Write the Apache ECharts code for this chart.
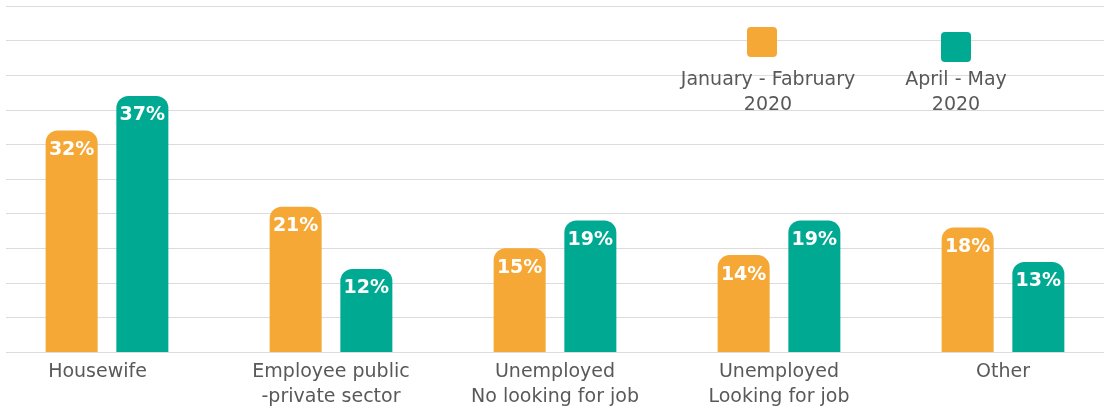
<!DOCTYPE html>
<html>
<head>
<meta charset="utf-8">
<script src="https://cdn.jsdelivr.net/npm/echarts@6/dist/echarts.min.js"></script>
<style>
  html, body { margin: 0; padding: 0; background: #ffffff; overflow: hidden; }
  /* the plot bands run slightly past the page edges */
  #chart { width: 1120px; height: 410px; margin-left: -5px; }
</style>
</head>
<body>
<div id="chart"></div>
<script>
// Employment status shares by period
const categories = [
  'Housewife',
  'Employee public\n-private sector',
  'Unemployed\nNo looking for job',
  'Unemployed\nLooking for job',
  'Other'
];
const seriesNames = ['January - Fabruary\n2020', 'April - May\n2020'];
const janFeb = [32, 21, 15, 14, 18];
const aprMay = [37, 12, 19, 19, 13];
const yTicks = { min: 0, max: 50, interval: 5 };

const ORANGE = '#F5A836';
const GREEN = '#00AA92';
const TEXT = '#595959';
const FONT = '"DejaVu Sans", Verdana, sans-serif';

const chart = echarts.init(document.getElementById('chart'), null, { renderer: 'canvas' });

const barLabel = {
  show: true,
  position: 'insideTop',
  distance: 10,
  formatter: '{c}%',
  color: '#ffffff',
  fontFamily: FONT,
  fontWeight: 'bold',
  fontSize: 19
};

// Legend: icon above a centred caption
function legendItem(name, color, iconX, iconY, textX, textY) {
  return [
    {
      type: 'rect',
      z: 100,
      shape: { x: iconX, y: iconY, width: 30, height: 30, r: 4 },
      style: { fill: color }
    },
    {
      type: 'text',
      z: 100,
      x: textX,
      y: textY,
      style: {
        text: name,
        fill: TEXT,
        font: '19px ' + FONT,
        lineHeight: 25,
        align: 'center',
        verticalAlign: 'top'
      }
    }
  ];
}

const option = {
  backgroundColor: '#ffffff',
  animation: false,
  grid: { left: 0, right: 0, top: 6, bottom: 58, containLabel: false },
  xAxis: {
    type: 'category',
    data: categories.map((c, i) => i === 0
      ? { value: c, textStyle: { padding: [0, 19, 0, 0] } }
      : c),
    axisLine: { lineStyle: { color: '#DCDCDC', width: 1 } },
    axisTick: { show: false },
    axisLabel: {
      color: TEXT,
      fontFamily: FONT,
      fontSize: 19,
      lineHeight: 25,
      margin: 8,
      interval: 0
    }
  },
  yAxis: {
    type: 'value',
    min: yTicks.min,
    max: yTicks.max,
    interval: yTicks.interval,
    axisLabel: { show: false },
    axisLine: { show: false },
    axisTick: { show: false },
    splitLine: { lineStyle: { color: '#DCDCDC', width: 1 } }
  },
  series: [
    {
      name: seriesNames[0],
      type: 'bar',
      data: janFeb,
      barWidth: 52,
      barGap: '36%',
      itemStyle: { color: ORANGE, borderRadius: [12, 12, 0, 0] },
      label: barLabel
    },
    {
      name: seriesNames[1],
      type: 'bar',
      data: aprMay,
      barWidth: 52,
      itemStyle: { color: GREEN, borderRadius: [12, 12, 0, 0] },
      label: barLabel
    }
  ],
  graphic: [
    // blank margin at the left edge
    {
      type: 'rect',
      z: 100,
      shape: { x: 0, y: 0, width: 11, height: 360 },
      style: { fill: '#ffffff' }
    },
    ...legendItem(seriesNames[0], ORANGE, 752, 27, 773, 68),
    ...legendItem(seriesNames[1], GREEN, 946, 32, 961, 68)
  ]
};

chart.setOption(option);
</script>
</body>
</html>
